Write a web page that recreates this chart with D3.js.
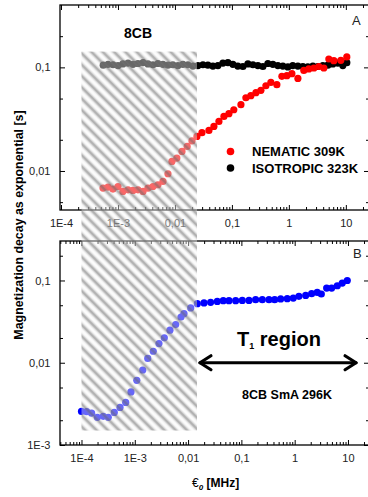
<!DOCTYPE html>
<html>
<head>
<meta charset="utf-8">
<script src="https://cdn.jsdelivr.net/npm/d3@7/dist/d3.min.js"></script>
<style>
  html, body { margin: 0; padding: 0; background: #fff; }
  svg { display: block; font-family: "Liberation Sans", Arial, sans-serif; }
</style>
</head>
<body>
<svg id="chart" width="368" height="497"></svg>
<script>
// ---- data: relaxation time vs. frequency for 8CB ----
const nematicFreq = [5.46e-4, 6.68e-4, 8.17e-4, 1.0e-3, 1.22e-3, 1.5e-3, 1.83e-3, 2.24e-3, 2.75e-3, 3.36e-3,
  4.11e-3, 5.03e-3, 6.16e-3, 7.54e-3, 8.86e-3, 0.0108, 0.0133, 0.0164, 0.0199, 0.0243, 0.0298, 0.0395,
  0.0483, 0.0592, 0.0724, 0.0886, 0.108, 0.144, 0.176, 0.215, 0.264, 0.323, 0.395, 0.483, 0.615, 0.754,
  0.922, 1.13, 1.44, 1.83, 2.24, 2.75, 3.36, 4.11, 5.03, 6.16, 8.17, 10.4];
const nematicT = [0.00684, 0.00699, 0.00669, 0.00708, 0.00634, 0.00658, 0.00649, 0.00658, 0.00634, 0.00684,
  0.00708, 0.00736, 0.00792, 0.0094, 0.01236, 0.01333, 0.01543, 0.01725, 0.0195, 0.02155, 0.0234, 0.0246,
  0.0269, 0.0301, 0.0336, 0.0357, 0.039, 0.0436, 0.0509, 0.0533, 0.057, 0.06, 0.0665, 0.0716, 0.0681, 0.0819,
  0.0832, 0.0869, 0.0783, 0.0935, 0.0966, 0.0986, 0.102, 0.0986, 0.1205, 0.116, 0.117, 0.126];

const isotropicFreq = [5.5e-4, 6.7e-4, 8.2e-4, 1.0e-3, 1.22e-3, 1.5e-3, 1.83e-3, 2.24e-3, 2.75e-3, 3.36e-3,
  4.11e-3, 5.03e-3, 6.16e-3, 7.54e-3, 9.2e-3, 0.0113, 0.0138, 0.0169, 0.0207, 0.0253, 0.031, 0.0379, 0.0464,
  0.0568, 0.0695, 0.0851, 0.104, 0.127, 0.156, 0.191, 0.234, 0.286, 0.35, 0.428, 0.524, 0.641, 0.785, 0.96,
  1.17, 1.44, 1.76, 2.15, 2.64, 3.23, 3.95, 4.83, 5.91, 7.24, 8.85, 10.4];
const isotropicT = [0.105, 0.107, 0.106, 0.104, 0.108, 0.110, 0.107, 0.109, 0.111, 0.108, 0.106, 0.109, 0.107,
  0.105, 0.106, 0.104, 0.107, 0.106, 0.103, 0.104, 0.106, 0.105, 0.103, 0.104, 0.110, 0.111, 0.107, 0.103,
  0.102, 0.108, 0.106, 0.104, 0.102, 0.109, 0.107, 0.104, 0.103, 0.101, 0.104, 0.103, 0.102, 0.101, 0.103,
  0.102, 0.104, 0.105, 0.108, 0.110, 0.104, 0.111];

const smecticFreq = [1.0e-4, 1.25e-4, 1.55e-4, 1.98e-4, 2.56e-4, 3.18e-4, 4.12e-4, 5.28e-4, 6.75e-4, 8.48e-4,
  1.09e-3, 1.41e-3, 1.75e-3, 2.22e-3, 2.84e-3, 3.58e-3, 4.57e-3, 5.85e-3, 7.36e-3, 8.37e-3, 0.0112, 0.0149,
  0.0199, 0.0265, 0.0353, 0.0457, 0.0585, 0.0781, 0.104, 0.139, 0.185, 0.247, 0.33, 0.421, 0.546, 0.726,
  0.941, 1.2, 1.61, 2.08, 2.65, 3.16, 3.98, 4.94, 6.3, 7.81, 9.7];
const smecticT = [0.00256, 0.00254, 0.00244, 0.00217, 0.00223, 0.00217, 0.00249, 0.00286, 0.00329, 0.00442,
  0.00612, 0.00816, 0.0113, 0.0138, 0.0171, 0.0201, 0.0249, 0.0291, 0.036, 0.0395, 0.0464, 0.0523, 0.0533,
  0.0542, 0.0557, 0.0568, 0.0568, 0.0568, 0.0573, 0.0573, 0.0585, 0.0585, 0.0585, 0.0585, 0.0596, 0.0601,
  0.0612, 0.0641, 0.0659, 0.0691, 0.0716, 0.0685, 0.0809, 0.0809, 0.0863, 0.093, 0.1];

// ---- axis ticks ----
const xTickValues = [1e-4, 1e-3, 1e-2, 1e-1, 1, 10];
const xTickLabels = ["1E-4", "1E-3", "0,01", "0,1", "1", "10"];
const yTopTickValues = [0.01, 0.1];
const yTopTickLabels = ["0,01", "0,1"];
const yBotTickValues = [0.001, 0.01, 0.1];
const yBotTickLabels = ["1E-3", "0,01", "0,1"];
const yMinorMantissas = [2, 5];

// shaded low-frequency window and the T1 range
const shadedFreq = [1e-4, 0.0147];
const shadedTopT = 0.142;     // upper edge, read on the top panel
const shadedBottomT = 0.0015; // lower edge, read on the bottom panel
const t1Freq = [0.016, 14.8];
const t1Level = 0.01;

// ---- layout ----
const svg = d3.select("#chart");
const left = 60, right = 369;
const boxA = { y0: 5, y1: 210 };
const boxB = { y0: 241, y1: 445 };

const xA = d3.scaleLog().domain([9.6e-5, 25.5]).range([left, right]);
const yA = d3.scaleLog().domain([0.0042, 0.40]).range([boxA.y1, boxA.y0]);
const xB = d3.scaleLog().domain([3.95e-5, 24.8]).range([left, right]);
const yB = d3.scaleLog().domain([0.001, 0.302]).range([boxB.y1, boxB.y0]);

function minorTicks(domain, mantissas) {
  const out = [];
  const lo = Math.floor(Math.log10(domain[0])), hi = Math.ceil(Math.log10(domain[1]));
  for (let d = lo; d <= hi; d++) {
    for (const m of mantissas) {
      const v = m * Math.pow(10, d);
      if (v > domain[0] * 1.0001 && v < domain[1] * 0.9999) out.push(v);
    }
  }
  return out;
}
const xMinorM = [2, 3, 4, 5, 6, 7, 8, 9];

function labelFmt(values, labels) {
  return v => {
    const i = values.findIndex(t => Math.abs(t - v) / t < 1e-6);
    return i >= 0 ? labels[i] : "";
  };
}

function styleAxis(g) {
  g.select(".domain").remove();
  g.selectAll("line").attr("stroke", "#000").attr("stroke-width", 1);
  g.selectAll("text").attr("font-size", 11).attr("fill", "#222")
    .attr("font-family", "'Liberation Sans', Arial, sans-serif");
}

function drawPanel(x, y, box, yVals, yLabels) {
  const g = svg.append("g");
  const xMinor = minorTicks(x.domain(), xMinorM);
  const yMinor = minorTicks(y.domain(), yMinorMantissas);
  const xMaj = xTickValues.filter(v => v >= x.domain()[0] && v <= x.domain()[1]);

  // bottom axis with labels
  g.append("g").attr("transform", `translate(0,${box.y1})`)
    .call(d3.axisBottom(x).tickValues(xMaj).tickSizeInner(-5).tickSizeOuter(0).tickPadding(9.5)
      .tickFormat(labelFmt(xTickValues, xTickLabels))).call(styleAxis);
  g.append("g").attr("transform", `translate(0,${box.y1})`)
    .call(d3.axisBottom(x).tickValues(xMinor).tickSizeInner(-3).tickSizeOuter(0).tickFormat("")).call(styleAxis);
  // top axis, ticks only
  g.append("g").attr("transform", `translate(0,${box.y0})`)
    .call(d3.axisTop(x).tickValues(xMaj).tickSizeInner(-5).tickSizeOuter(0).tickFormat("")).call(styleAxis);
  g.append("g").attr("transform", `translate(0,${box.y0})`)
    .call(d3.axisTop(x).tickValues(xMinor).tickSizeInner(-3).tickSizeOuter(0).tickFormat("")).call(styleAxis);
  // left axis with labels
  g.append("g").attr("transform", `translate(${left},0)`)
    .call(d3.axisLeft(y).tickValues(yVals).tickSizeInner(-5).tickSizeOuter(0).tickPadding(9.5)
      .tickFormat(labelFmt(yVals, yLabels))).call(styleAxis);
  g.append("g").attr("transform", `translate(${left},0)`)
    .call(d3.axisLeft(y).tickValues(yMinor).tickSizeInner(-3).tickSizeOuter(0).tickFormat("")).call(styleAxis);
  // right axis, ticks only
  g.append("g").attr("transform", `translate(${right},0)`)
    .call(d3.axisRight(y).tickValues(yVals).tickSizeInner(-5).tickSizeOuter(0).tickFormat("")).call(styleAxis);
  g.append("g").attr("transform", `translate(${right},0)`)
    .call(d3.axisRight(y).tickValues(yMinor).tickSizeInner(-3).tickSizeOuter(0).tickFormat("")).call(styleAxis);

  g.append("rect").attr("x", left).attr("y", box.y0)
    .attr("width", right - left).attr("height", box.y1 - box.y0)
    .attr("fill", "none").attr("stroke", "#000").attr("stroke-width", 1.3);
  return g;
}

function drawDots(x, y, fx, fy, color) {
  svg.append("g").selectAll("circle")
    .data(fx.map((f, i) => [f, fy[i]]))
    .join("circle")
    .attr("cx", d => x(d[0])).attr("cy", d => y(d[1]))
    .attr("r", 3.6).attr("fill", color);
}

// ---- panel A ----
drawPanel(xA, yA, boxA, yTopTickValues, yTopTickLabels);
drawDots(xA, yA, isotropicFreq, isotropicT, "#000");
drawDots(xA, yA, nematicFreq, nematicT, "#ff0000");

// ---- panel B ----
drawPanel(xB, yB, boxB, yBotTickValues, yBotTickLabels);
drawDots(xB, yB, smecticFreq, smecticT, "#0000ff");

// ---- annotations ----
const bold = (sel) => sel.attr("font-weight", "bold").attr("fill", "#000");

svg.append("text").attr("x", 138).attr("y", 38).attr("text-anchor", "middle")
  .attr("font-size", 14).call(bold).text("8CB");
svg.append("text").attr("x", 352).attr("y", 25).attr("font-size", 13).attr("fill", "#222").text("A");
svg.append("text").attr("x", 353).attr("y", 258).attr("font-size", 13).attr("fill", "#222").text("B");

// legend
const legend = [
  { label: "NEMATIC 309K", color: "#ff0000" },
  { label: "ISOTROPIC 323K", color: "#000" }
];
const lg = svg.append("g").attr("transform", "translate(230.5,151.5)");
legend.forEach((d, i) => {
  lg.append("circle").attr("cx", 0).attr("cy", i * 16.5).attr("r", 3.8).attr("fill", d.color);
  lg.append("text").attr("x", 21.5).attr("y", i * 16.5 + 4.6).attr("font-size", 13).call(bold).text(d.label);
});

// axis titles
svg.append("text")
  .attr("transform", "translate(23,225) rotate(-90)")
  .attr("text-anchor", "middle").attr("font-size", 12.4).call(bold)
  .text("Magnetization decay as exponential [s]");

const xt = svg.append("text").attr("x", 192).attr("y", 487).attr("font-size", 12).call(bold);
xt.append("tspan").attr("font-weight", "normal").text("€");
xt.append("tspan").attr("font-size", 8).attr("font-style", "italic").attr("dy", 3).text("0");
xt.append("tspan").attr("dy", -3).text(" [MHz]");

// T1 region label and arrow
const t1 = svg.append("text").attr("x", 237).attr("y", 346).attr("font-size", 20).call(bold);
t1.append("tspan").text("T");
t1.append("tspan").attr("font-size", 9).attr("dy", 3).text("1");
t1.append("tspan").attr("dy", -3).text(" region");

svg.append("text").attr("x", 287).attr("y", 399).attr("text-anchor", "middle")
  .attr("font-size", 12.5).call(bold).text("8CB SmA 296K");

const ax0 = xB(t1Freq[0]), ax1 = xB(t1Freq[1]), ay = yB(t1Level);
const arrow = svg.append("g").attr("stroke", "#000").attr("stroke-width", 3.2)
  .attr("fill", "none").attr("stroke-linecap", "round").attr("stroke-linejoin", "round");
arrow.append("line").attr("x1", ax0 + 1).attr("x2", ax1 - 1).attr("y1", ay).attr("y2", ay);
arrow.append("path").attr("d", `M${ax0 + 12},${ay - 7}L${ax0 + 1},${ay}L${ax0 + 12},${ay + 7}`);
arrow.append("path").attr("d", `M${ax1 - 12},${ay - 7}L${ax1 - 1},${ay}L${ax1 - 12},${ay + 7}`);

// ---- shaded window drawn over both panels ----
const defs = svg.append("defs");
const grad = defs.append("linearGradient").attr("id", "stripeGrad")
  .attr("x1", 0).attr("x2", 1).attr("y1", 0).attr("y2", 0);
[[0, "#ffffff", 0.4], [0.18, "#e6e6e6", 0.45], [0.5, "#7e7e7e", 0.78], [0.82, "#e6e6e6", 0.45], [1, "#ffffff", 0.4]]
  .forEach(([o, c, a]) => grad.append("stop").attr("offset", o).attr("stop-color", c).attr("stop-opacity", a));
const pat = defs.append("pattern").attr("id", "stripes").attr("patternUnits", "userSpaceOnUse")
  .attr("width", 8).attr("height", 8).attr("patternTransform", "rotate(-45)");
pat.append("rect").attr("width", 8).attr("height", 8).attr("fill", "url(#stripeGrad)");

const sx0 = xB(shadedFreq[0]), sx1 = xB(shadedFreq[1]);
const sy0 = yA(shadedTopT), sy1 = yB(shadedBottomT);
svg.append("rect").attr("x", sx0).attr("y", sy0)
  .attr("width", sx1 - sx0).attr("height", sy1 - sy0)
  .attr("fill", "url(#stripes)");
</script>
</body>
</html>
